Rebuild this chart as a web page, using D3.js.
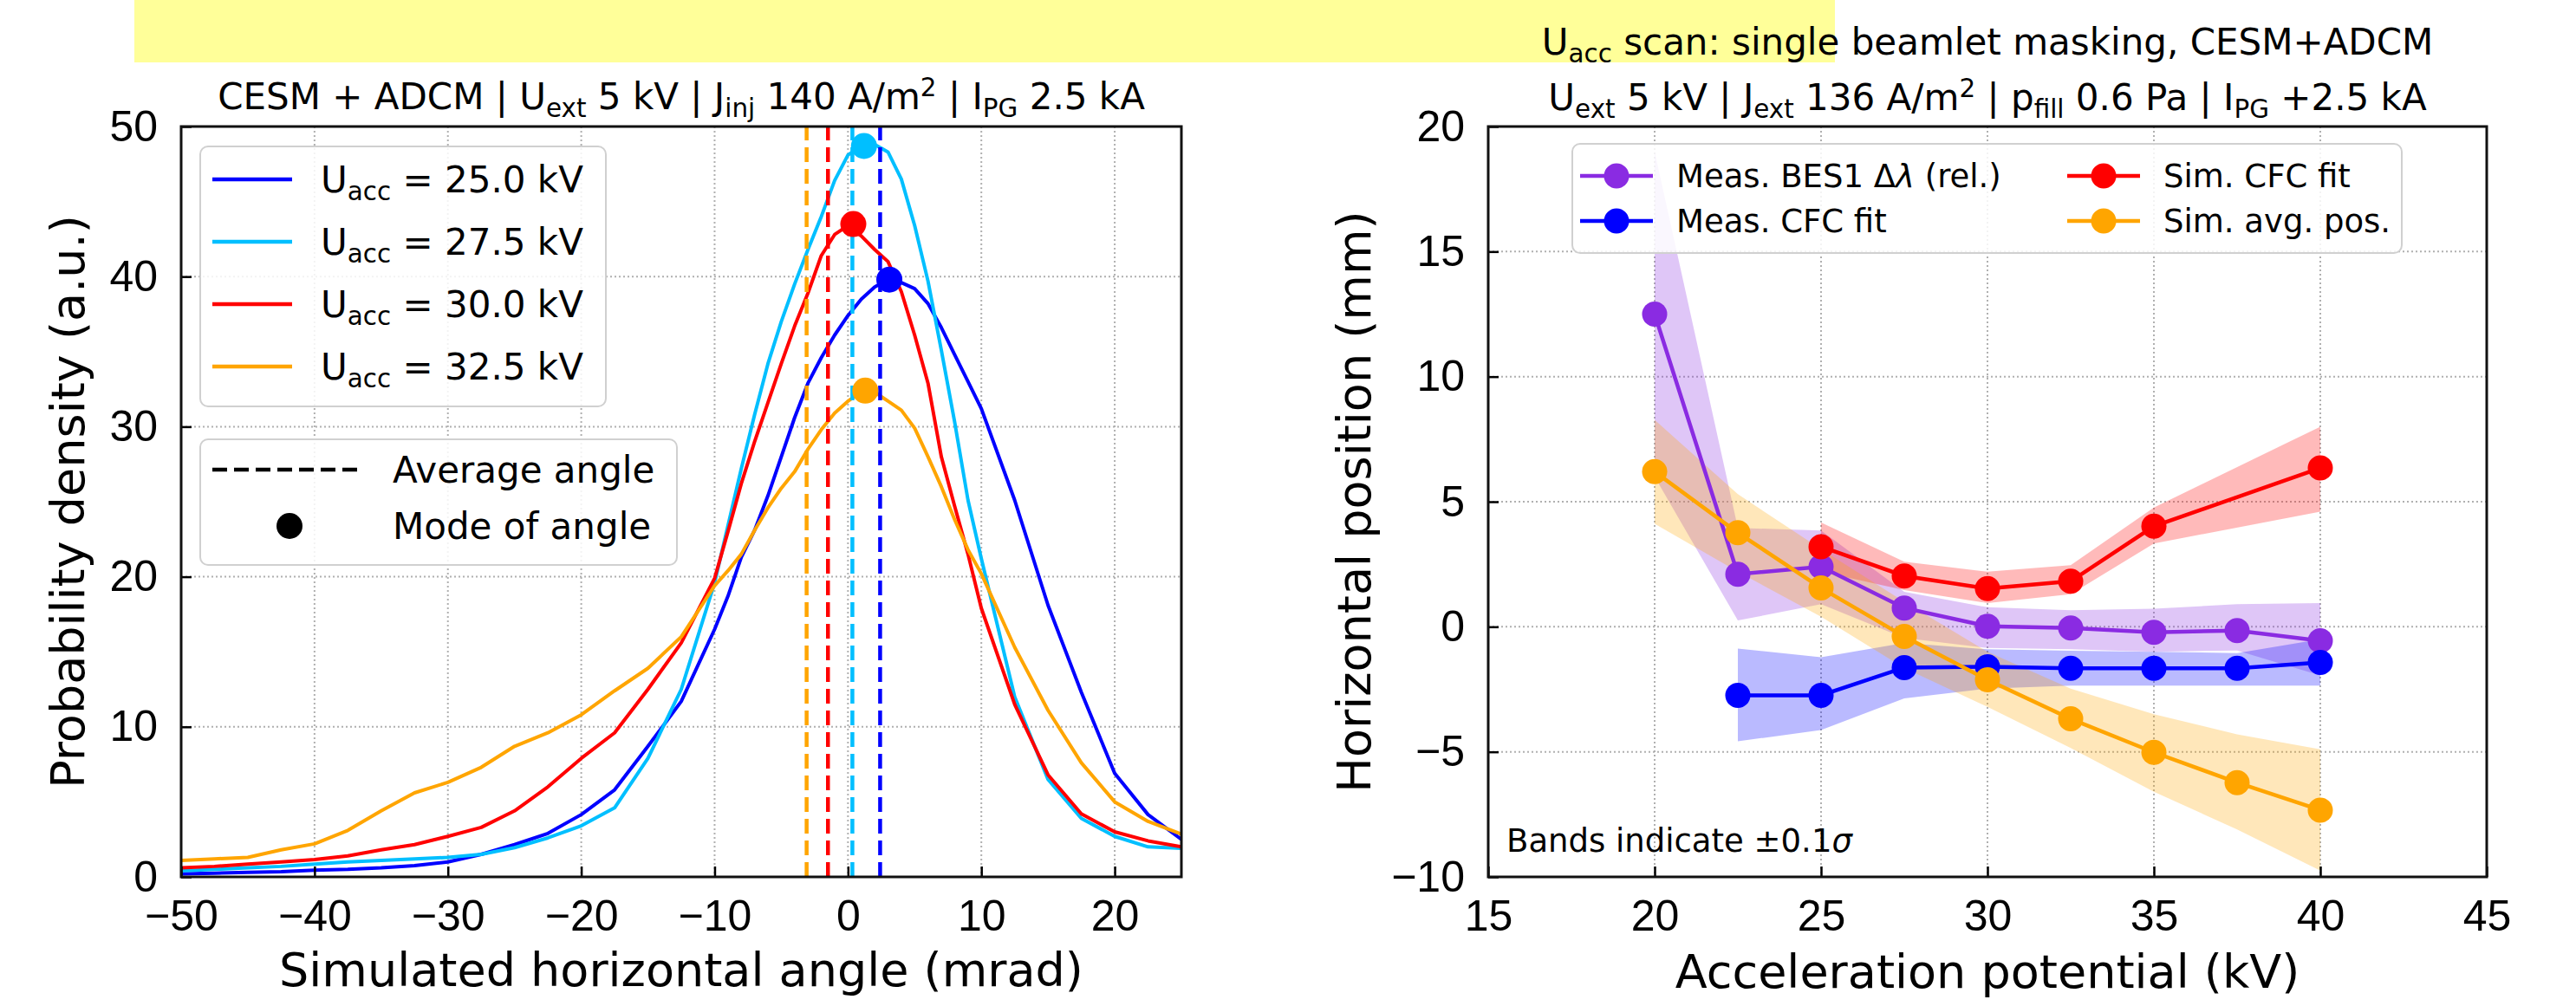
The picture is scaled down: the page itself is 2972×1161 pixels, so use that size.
<!DOCTYPE html>
<html>
<head>
<meta charset="utf-8">
<title>Beamlet deflection</title>
<script src="https://d3js.org/d3.v7.min.js"></script>
<style>
  body { margin: 0; background: #fff; }
  svg { display: block; font-family: "DejaVu Sans", sans-serif; }
  .grid line { stroke: #b0b0b0; stroke-width: 2; stroke-dasharray: 2,3; }
  .tick line { stroke: #000; stroke-width: 2.5; }
  .tick text { font-size: 50px; fill: #000; }
</style>
</head>
<body>
<div id="chart"></div>
<script>
// ---- left panel: simulated angle distributions ----
const angles = [-50,-47.5,-45,-42.5,-40,-37.5,-35,-32.5,-30,-27.5,-25,-22.5,-20,-17.5,-15,-12.5,
  -10,-9,-8,-7,-6,-5,-4,-3,-2,-1,0,1,2,3,4,5,6,7,8,9,10,12.5,15,17.5,20,22.5,25];
const dens25 = [0.2,0.25,0.3,0.35,0.45,0.5,0.6,0.75,1.0,1.5,2.15,2.9,4.15,5.8,8.7,11.7,
  16.5,18.7,21.3,23.1,25.4,28.0,30.6,32.9,34.6,36.1,37.4,38.5,39.3,39.8,39.6,39.2,38.2,36.6,34.8,33.0,31.2,25.1,18.1,12.3,6.9,4.15,2.5];
const dens275 = [0.4,0.5,0.6,0.7,0.85,1.0,1.1,1.2,1.3,1.5,1.95,2.6,3.4,4.6,7.9,12.5,
  19.6,23.4,27.2,30.8,34.2,37.0,39.5,41.8,44.0,46.4,48.1,48.7,48.8,48.3,46.5,43.4,39.7,35.1,30.3,25.1,21.2,12.0,6.5,3.9,2.7,2.0,1.9];
const dens30 = [0.6,0.7,0.85,1.0,1.15,1.4,1.8,2.15,2.7,3.3,4.4,6.0,7.9,9.6,12.5,15.6,
  19.9,23.0,26.2,29.0,31.6,34.2,36.7,38.9,41.4,42.8,43.4,42.7,41.8,41.0,39.0,36.1,32.9,28.0,24.7,21.5,17.9,11.5,6.8,4.2,3.0,2.4,2.0];
const dens325 = [1.1,1.2,1.3,1.8,2.2,3.1,4.4,5.6,6.3,7.3,8.7,9.6,10.8,12.4,13.9,16.0,
  19.4,20.4,21.5,23.1,24.6,25.9,27.0,28.5,29.8,30.9,31.7,32.3,32.3,31.7,31.1,29.9,28.0,26.0,23.8,21.8,20.2,15.3,11.1,7.6,5.0,3.7,2.85];
const uaccLabels = ["25.0","27.5","30.0","32.5"];
const distColors = ["#0000ff","#00bfff","#ff0000","#ffa500"];
const avgAngle = [2.41, 0.33, -1.5, -3.1];
const modeAngle = [3.1, 1.2, 0.4, 1.3];
const modeDens = [39.8, 48.7, 43.5, 32.4];
const leftXTicks = [-50,-40,-30,-20,-10,0,10,20];
const leftYTicks = [0,10,20,30,40,50];

// ---- right panel: position vs acceleration potential ----
const kv = [20,22.5,25,27.5,30,32.5,35,37.5,40];
const besVal = [12.5,2.1,2.4,0.75,0.02,-0.05,-0.22,-0.15,-0.56];
const besLo  = [6.0,0.25,0.9,-0.45,-0.85,-0.9,-1.0,-0.95,-1.95];
const besHi  = [19.0,3.95,3.85,1.4,0.78,0.66,0.72,0.9,0.95];
const kvMeas = [22.5,25,27.5,30,32.5,35,37.5,40];
const cfcVal = [-2.74,-2.74,-1.63,-1.6,-1.66,-1.66,-1.66,-1.43];
const cfcLo  = [-4.58,-4.13,-2.86,-2.47,-2.35,-2.35,-2.35,-2.35];
const cfcHi  = [-0.87,-1.22,-0.65,-0.9,-0.96,-1.0,-1.05,-0.5];
const kvSim = [25,27.5,30,32.5,35,40];
const simCfcVal = [3.2,2.03,1.53,1.82,4.02,6.35];
const simCfcLo  = [2.2,1.47,0.95,1.3,3.33,4.6];
const simCfcHi  = [4.17,2.6,2.2,2.46,4.77,8.0];
const avgVal = [6.2,3.76,1.55,-0.39,-2.12,-3.68,-5.02,-6.23,-7.33];
const avgLo  = [4.12,2.2,0.4,-1.65,-3.2,-4.85,-6.6,-8.1,-9.75];
const avgHi  = [8.27,5.3,3.1,1.0,-1.0,-2.47,-3.5,-4.3,-4.9];
const rightXTicks = [15,20,25,30,35,40,45];
const rightYTicks = [-10,-5,0,5,10,15,20];

const W = 2972, H = 1161;
const svg = d3.select("#chart").append("svg")
  .attr("width", W).attr("height", H);

// yellow banner at the top
svg.append("rect").attr("x", 155).attr("y", 0).attr("width", 1962).attr("height", 72)
  .attr("fill", "#ffff99");

// text with sub/superscripts: parts = [[text, kind], ...]
function rich(t, parts, size) {
  let off = 0;
  parts.forEach(([s, k]) => {
    const want = k === "sub" ? size * 0.22 : k === "sup" ? -size * 0.36 : 0;
    const ts = t.append("tspan").text(s).attr("dy", want - off);
    if (k === "sub" || k === "sup") ts.attr("font-size", size * 0.7);
    if (k === "it") ts.attr("font-style", "italic");
    off = want;
  });
  return t;
}

function frame(g, x, y, xt, yt) {
  const [x0, x1] = x.range(), [y1, y0] = y.range();
  const grid = g.append("g").attr("class", "grid");
  grid.selectAll(".gx").data(xt.filter(v => x(v) > x0 + 1 && x(v) < x1 - 1)).join("line")
    .attr("x1", d => x(d)).attr("x2", d => x(d)).attr("y1", y0).attr("y2", y1);
  grid.selectAll(".gy").data(yt.filter(v => y(v) > y0 + 1 && y(v) < y1 - 1)).join("line")
    .attr("x1", x0).attr("x2", x1).attr("y1", d => y(d)).attr("y2", d => y(d));
}

function axes(g, x, y, xt, yt) {
  const [x0, x1] = x.range(), [y1, y0] = y.range();
  g.append("g").attr("transform", `translate(0,${y1})`)
    .call(d3.axisBottom(x).tickValues(xt).tickSizeInner(-12).tickSizeOuter(0).tickPadding(26))
    .call(a => a.select(".domain").remove());
  g.append("g").attr("transform", `translate(${x0},0)`)
    .call(d3.axisLeft(y).tickValues(yt).tickSizeInner(-12).tickSizeOuter(0).tickPadding(27))
    .call(a => a.select(".domain").remove());
  g.append("rect").attr("x", x0).attr("y", y0).attr("width", x1 - x0).attr("height", y1 - y0)
    .attr("fill", "none").attr("stroke", "#111").attr("stroke-width", 3);
}

// ================= LEFT =================
const xL = d3.scaleLinear().domain([-50, 25]).range([209, 1363]);
const yL = d3.scaleLinear().domain([0, 50]).range([1012, 146]);
const gL = svg.append("g");
svg.append("clipPath").attr("id", "clipL").append("rect")
  .attr("x", 209).attr("y", 146).attr("width", 1154).attr("height", 866);
frame(gL, xL, yL, leftXTicks, leftYTicks);

const series = [dens25, dens275, dens30, dens325];
const lineL = d3.line().x((d, i) => xL(angles[i])).y(d => yL(d));
const plotL = gL.append("g").attr("clip-path", "url(#clipL)");
series.forEach((s, k) => {
  plotL.append("path").datum(s).attr("d", lineL)
    .attr("fill", "none").attr("stroke", distColors[k]).attr("stroke-width", 4)
    .attr("stroke-linejoin", "round");
});
avgAngle.forEach((a, k) => {
  plotL.append("line").attr("x1", xL(a)).attr("x2", xL(a)).attr("y1", yL(0)).attr("y2", yL(50))
    .attr("stroke", distColors[k]).attr("stroke-width", 4.5).attr("stroke-dasharray", "17,8");
});
modeAngle.forEach((a, k) => {
  plotL.append("circle").attr("cx", xL(a)).attr("cy", yL(modeDens[k])).attr("r", 15)
    .attr("fill", distColors[k]);
});
axes(gL, xL, yL, leftXTicks, leftYTicks);

// legend 1
const lg1 = gL.append("g");
lg1.append("rect").attr("x", 231).attr("y", 169).attr("width", 468).attr("height", 300).attr("rx", 9)
  .attr("fill", "#fff").attr("fill-opacity", 0.85).attr("stroke", "#d0d0d0").attr("stroke-width", 2);
uaccLabels.forEach((u, k) => {
  const yy = 207 + k * 72;
  lg1.append("line").attr("x1", 245).attr("x2", 337).attr("y1", yy).attr("y2", yy)
    .attr("stroke", distColors[k]).attr("stroke-width", 4.5);
  rich(lg1.append("text").attr("x", 370).attr("y", yy + 15).attr("font-size", 42),
    [["U"], ["acc", "sub"], [" = " + u + " kV"]], 42);
});
// legend 2
const lg2 = gL.append("g");
lg2.append("rect").attr("x", 231).attr("y", 507).attr("width", 550).attr("height", 145).attr("rx", 9)
  .attr("fill", "#fff").attr("fill-opacity", 0.85).attr("stroke", "#d0d0d0").attr("stroke-width", 2);
lg2.append("line").attr("x1", 245).attr("x2", 415).attr("y1", 542).attr("y2", 542)
  .attr("stroke", "#000").attr("stroke-width", 4.5).attr("stroke-dasharray", "17,8");
lg2.append("circle").attr("cx", 334).attr("cy", 607).attr("r", 15).attr("fill", "#000");
lg2.append("text").attr("x", 453).attr("y", 557).attr("font-size", 42).text("Average angle");
lg2.append("text").attr("x", 453).attr("y", 622).attr("font-size", 42).text("Mode of angle");

// title + labels
rich(svg.append("text").attr("x", 786).attr("y", 126).attr("text-anchor", "middle").attr("font-size", 42),
  [["CESM + ADCM | U"], ["ext", "sub"], [" 5 kV | J"], ["inj", "sub"], [" 140 A/m"], ["2", "sup"],
   [" | I"], ["PG", "sub"], [" 2.5 kA"]], 42);
svg.append("text").attr("x", 786).attr("y", 1138).attr("text-anchor", "middle").attr("font-size", 54)
  .text("Simulated horizontal angle (mrad)");
svg.append("text").attr("transform", "translate(97,579) rotate(-90)").attr("text-anchor", "middle")
  .attr("font-size", 54).text("Probability density (a.u.)");

// ================= RIGHT =================
const xR = d3.scaleLinear().domain([15, 45]).range([1717, 2869]);
const yR = d3.scaleLinear().domain([-10, 20]).range([1012, 146]);
const gR = svg.append("g");
svg.append("clipPath").attr("id", "clipR").append("rect")
  .attr("x", 1717).attr("y", 146).attr("width", 1152).attr("height", 866);
frame(gR, xR, yR, rightXTicks, rightYTicks);

const posSeries = [
  { x: kv, v: besVal, lo: besLo, hi: besHi, c: "#8a2be2" },
  { x: kvMeas, v: cfcVal, lo: cfcLo, hi: cfcHi, c: "#0000ff" },
  { x: kvSim, v: simCfcVal, lo: simCfcLo, hi: simCfcHi, c: "#ff0000" },
  { x: kv, v: avgVal, lo: avgLo, hi: avgHi, c: "#ffa500" }
];
const plotR = gR.append("g").attr("clip-path", "url(#clipR)");
posSeries.forEach(s => {
  const area = d3.area().x((d, i) => xR(s.x[i])).y0((d, i) => yR(s.lo[i])).y1((d, i) => yR(s.hi[i]));
  plotR.append("path").datum(s.v).attr("d", area).attr("fill", s.c).attr("fill-opacity", 0.27);
});
posSeries.forEach(s => {
  const line = d3.line().x((d, i) => xR(s.x[i])).y(d => yR(d));
  plotR.append("path").datum(s.v).attr("d", line).attr("fill", "none")
    .attr("stroke", s.c).attr("stroke-width", 4.5);
  plotR.selectAll(null).data(s.v).join("circle")
    .attr("cx", (d, i) => xR(s.x[i])).attr("cy", d => yR(d)).attr("r", 14.5).attr("fill", s.c);
});
axes(gR, xR, yR, rightXTicks, rightYTicks);

// legend
const lgR = gR.append("g");
lgR.append("rect").attr("x", 1814).attr("y", 166).attr("width", 957).attr("height", 126).attr("rx", 9)
  .attr("fill", "#fff").attr("fill-opacity", 0.85).attr("stroke", "#d0d0d0").attr("stroke-width", 2);
const legItems = [
  { s: posSeries[0], x: 1823, y: 203, parts: [["Meas. BES1 Δ"], ["λ", "it"], [" (rel.)"]] },
  { s: posSeries[1], x: 1823, y: 255, parts: [["Meas. CFC fit"]] },
  { s: posSeries[2], x: 2385, y: 203, parts: [["Sim. CFC fit"]] },
  { s: posSeries[3], x: 2385, y: 255, parts: [["Sim. avg. pos."]] }
];
legItems.forEach(it => {
  lgR.append("line").attr("x1", it.x).attr("x2", it.x + 84).attr("y1", it.y).attr("y2", it.y)
    .attr("stroke", it.s.c).attr("stroke-width", 4.5);
  lgR.append("circle").attr("cx", it.x + 42).attr("cy", it.y).attr("r", 14.5).attr("fill", it.s.c);
  rich(lgR.append("text").attr("x", it.x + 111).attr("y", it.y + 13).attr("font-size", 37), it.parts, 37);
});
rich(gR.append("text").attr("x", 1738).attr("y", 983).attr("font-size", 37),
  [["Bands indicate ±0.1"], ["σ", "it"]], 37);

// titles + labels
rich(svg.append("text").attr("x", 2293).attr("y", 63).attr("text-anchor", "middle").attr("font-size", 42),
  [["U"], ["acc", "sub"], [" scan: single beamlet masking, CESM+ADCM"]], 42);
rich(svg.append("text").attr("x", 2293).attr("y", 127).attr("text-anchor", "middle").attr("font-size", 42),
  [["U"], ["ext", "sub"], [" 5 kV | J"], ["ext", "sub"], [" 136 A/m"], ["2", "sup"], [" | p"], ["fill", "sub"],
   [" 0.6 Pa | I"], ["PG", "sub"], [" +2.5 kA"]], 42);
svg.append("text").attr("x", 2293).attr("y", 1140).attr("text-anchor", "middle").attr("font-size", 54)
  .text("Acceleration potential (kV)");
svg.append("text").attr("transform", "translate(1581,579) rotate(-90)").attr("text-anchor", "middle")
  .attr("font-size", 54).text("Horizontal position (mm)");
</script>
</body>
</html>
